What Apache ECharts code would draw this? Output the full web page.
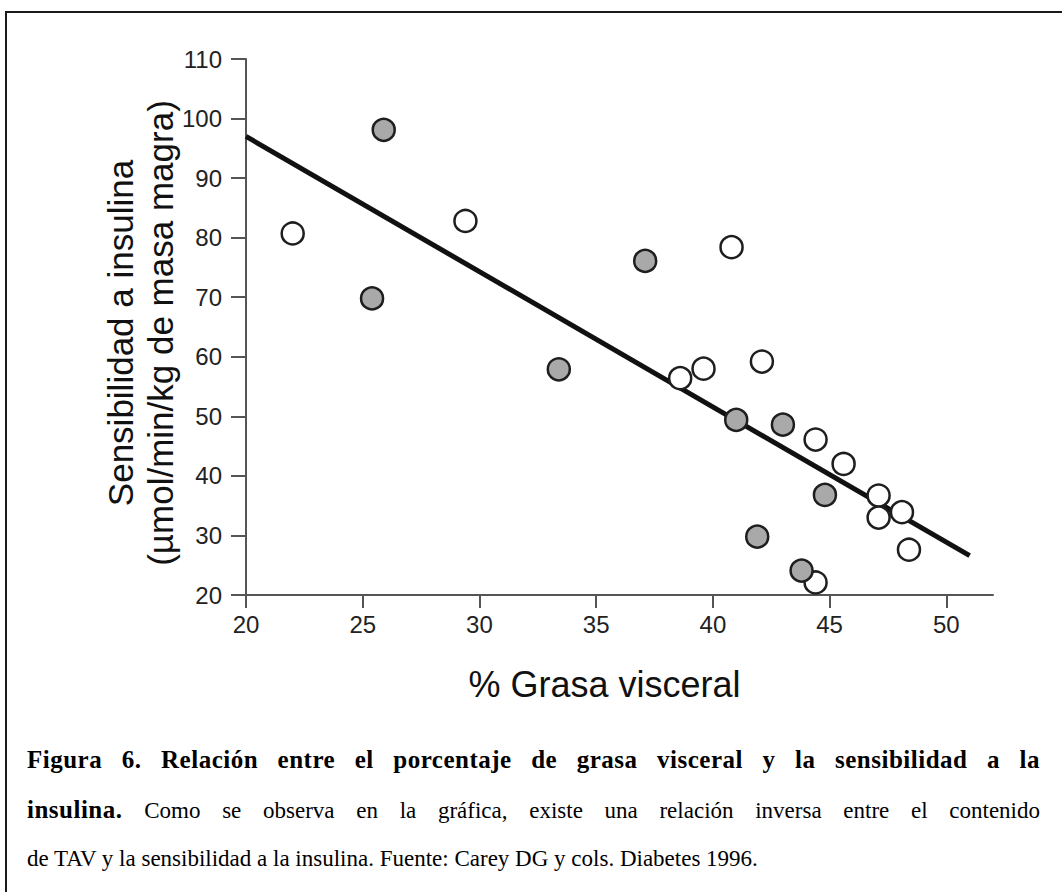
<!DOCTYPE html>
<html>
<head>
<meta charset="utf-8">
<script src="https://cdn.jsdelivr.net/npm/echarts@6/dist/echarts.min.js"></script>
<style>
  html, body { margin: 0; padding: 0; background: #fff; }
  #wrap { position: relative; width: 1062px; height: 892px; overflow: hidden; }
  #frame { position: absolute; left: 5px; top: 11px; width: 1200px; height: 1000px;
           border-top: 2px solid #1a1a1a; border-left: 2px solid #1a1a1a; box-sizing: border-box; }
  #chart { position: absolute; left: 0; top: 0; width: 1062px; height: 892px; }
  #caption { position: absolute; left: 27px; top: 736px; width: 1013px;
             font-family: "Liberation Serif", "Times New Roman", serif; font-size: 23px;
             line-height: 48.5px; color: #000; }
  #caption b { font-size: 25px; letter-spacing: 0.5px; }
  #caption .j { text-align: justify; text-align-last: justify; white-space: nowrap; }
  #caption .l { text-align: left; white-space: nowrap; }
</style>
</head>
<body>
<div id="wrap">
  <div id="frame"></div>
  <div id="chart"></div>
  <div id="caption">
    <div class="j"><b>Figura 6. Relación entre el porcentaje de grasa visceral y la sensibilidad a la</b></div>
    <div class="j"><b>insulina.</b> Como se observa en la gráfica, existe una relación inversa entre el contenido</div>
    <div class="l">de TAV y la sensibilidad a la insulina. Fuente: Carey DG y cols. Diabetes 1996.</div>
  </div>
</div>
<script>
// % visceral fat (x) and insulin sensitivity (y), two subject groups
const filledX = [25.9, 25.4, 33.4, 37.1, 41.0, 43.0, 44.8, 41.9, 43.8];
const filledY = [98.1, 69.8, 57.9, 76.1, 49.4, 48.6, 36.8, 29.8, 24.1];
const openX = [22.0, 29.4, 40.8, 38.6, 39.6, 42.1, 44.4, 45.6, 47.1, 47.1, 48.1, 48.4, 44.4];
const openY = [80.7, 82.8, 78.4, 56.4, 58.0, 59.2, 46.1, 42.0, 36.7, 33.0, 33.9, 27.6, 22.1];
// fitted regression line end points
const fitX = [20, 51];
const fitY = [97.0, 26.6];
const xTicks = [20, 25, 30, 35, 40, 45, 50];

const zip = (xs, ys) => xs.map((x, i) => [x, ys[i]]);
const font = '"Liberation Sans", Arial, Helvetica, sans-serif';
const axisColor = '#555';

const chart = echarts.init(document.getElementById('chart'), null, { renderer: 'svg' });
chart.setOption({
  animation: false,
  backgroundColor: 'transparent',
  grid: { left: 246, top: 59, right: 69, bottom: 297, containLabel: false, outerBoundsMode: 'none' },
  xAxis: {
    type: 'value', min: 20, max: 52,
    name: '% Grasa visceral', nameLocation: 'middle', nameGap: 71, nameMoveOverlap: false,
    nameTextStyle: { fontFamily: font, fontSize: 36, color: '#111', padding: [0, 30, 0, 0] },
    axisLine: { show: true, lineStyle: { color: axisColor, width: 2 } },
    axisTick: { show: true, length: 13, lineStyle: { color: axisColor, width: 2 }, customValues: xTicks },
    axisLabel: { fontFamily: font, fontSize: 24, color: '#222', margin: 17, customValues: xTicks },
    splitLine: { show: false }
  },
  yAxis: {
    type: 'value', min: 20, max: 110, interval: 10,
    name: 'Sensibilidad a insulina\n(µmol/min/kg de masa magra)', nameLocation: 'middle', nameGap: 66,
    nameMoveOverlap: false,
    nameTextStyle: { fontFamily: font, fontSize: 35, lineHeight: 40, color: '#111', padding: [0, 12, 0, 0] },
    axisLine: { show: true, lineStyle: { color: axisColor, width: 2 } },
    axisTick: { show: true, length: 15, lineStyle: { color: axisColor, width: 2 } },
    axisLabel: { fontFamily: font, fontSize: 24, color: '#222', margin: 24 },
    splitLine: { show: false }
  },
  series: [
    {
      type: 'line', data: zip(fitX, fitY), symbol: 'none', z: 1,
      lineStyle: { color: '#111', width: 5 }
    },
    {
      type: 'scatter', data: zip(openX, openY), symbol: 'circle', symbolSize: 22, z: 3,
      itemStyle: { color: '#fff', borderColor: '#1e1e1e', borderWidth: 2.5, opacity: 1 }
    },
    {
      type: 'scatter', data: zip(filledX, filledY), symbol: 'circle', symbolSize: 22, z: 3,
      itemStyle: { color: '#a9a9a9', borderColor: '#1e1e1e', borderWidth: 2.5, opacity: 1 }
    }
  ]
});
</script>
</body>
</html>
